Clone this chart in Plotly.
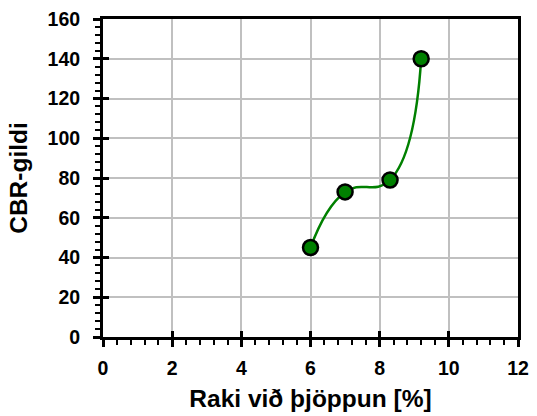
import plotly.graph_objects as go

# Moisture at compaction (%) and CBR values
raki = [6.0, 7.0, 8.3, 9.2]
cbr = [45, 73, 79, 140]

x_ticks = [0, 2, 4, 6, 8, 10, 12]
y_ticks = [0, 20, 40, 60, 80, 100, 120, 140, 160]

font_family = "Liberation Sans, Arial, sans-serif"

fig = go.Figure()

fig.add_trace(go.Scatter(
    x=raki, y=cbr,
    mode="lines+markers",
    line=dict(color="#008000", width=2.5, shape="spline", smoothing=1.3),
    marker=dict(size=15, color="#008000", line=dict(color="black", width=2.5)),
    showlegend=False,
    hoverinfo="x+y",
))

# invisible trace so the overlay axes (inner half of the crossing ticks) render
fig.add_trace(go.Scatter(
    x=[raki[0]], y=[cbr[0]], xaxis="x2", yaxis="y2",
    mode="markers", marker=dict(opacity=0), showlegend=False, hoverinfo="skip",
))

tickfont = dict(family=font_family, size=19.5, color="black")
titlefont = dict(family=font_family, size=24.5, color="black")


def bold(vals):
    return ["<b>%s</b>" % v for v in vals]


fig.update_layout(
    width=537, height=416,
    margin=dict(l=103, r=19, t=19, b=79),
    paper_bgcolor="white",
    plot_bgcolor="white",
    xaxis=dict(
        range=[0, 12], tickvals=x_ticks, ticktext=bold(x_ticks),
        showline=True, linecolor="black", linewidth=3, mirror=True,
        ticks="outside", ticklen=7, tickwidth=3, tickcolor="black",
        minor=dict(dtick=0.4, ticks="outside", ticklen=5, tickwidth=2,
                   tickcolor="black", showgrid=False),
        showgrid=True, gridcolor="#c0c0c0", gridwidth=2,
        zeroline=False, tickfont=tickfont, ticklabelstandoff=5,
        automargin=False,
        title=dict(text="<b>Raki við þjöppun [%]</b>", font=titlefont, standoff=12),
    ),
    yaxis=dict(
        range=[0, 160], tickvals=y_ticks, ticktext=bold(y_ticks),
        showline=True, linecolor="black", linewidth=3, mirror=True,
        ticks="outside", ticklen=7, tickwidth=3, tickcolor="black",
        minor=dict(dtick=4, ticks="outside", ticklen=5, tickwidth=2,
                   tickcolor="black", showgrid=False),
        showgrid=True, gridcolor="#c0c0c0", gridwidth=2,
        zeroline=False, tickfont=tickfont, ticklabelstandoff=9,
        automargin=False,
        title=dict(text="<b>CBR-gildi</b>", font=titlefont, standoff=13),
    ),
    xaxis2=dict(
        overlaying="x", range=[0, 12], tickvals=x_ticks, showticklabels=False,
        ticks="inside", ticklen=6, tickwidth=3, tickcolor="black",
        showgrid=False, zeroline=False, showline=False, side="bottom",
        automargin=False,
    ),
    yaxis2=dict(
        overlaying="y", range=[0, 160], tickvals=y_ticks, showticklabels=False,
        ticks="inside", ticklen=6, tickwidth=3, tickcolor="black",
        showgrid=False, zeroline=False, showline=False, side="left",
        automargin=False,
    ),
)

fig.write_html("out.html")
